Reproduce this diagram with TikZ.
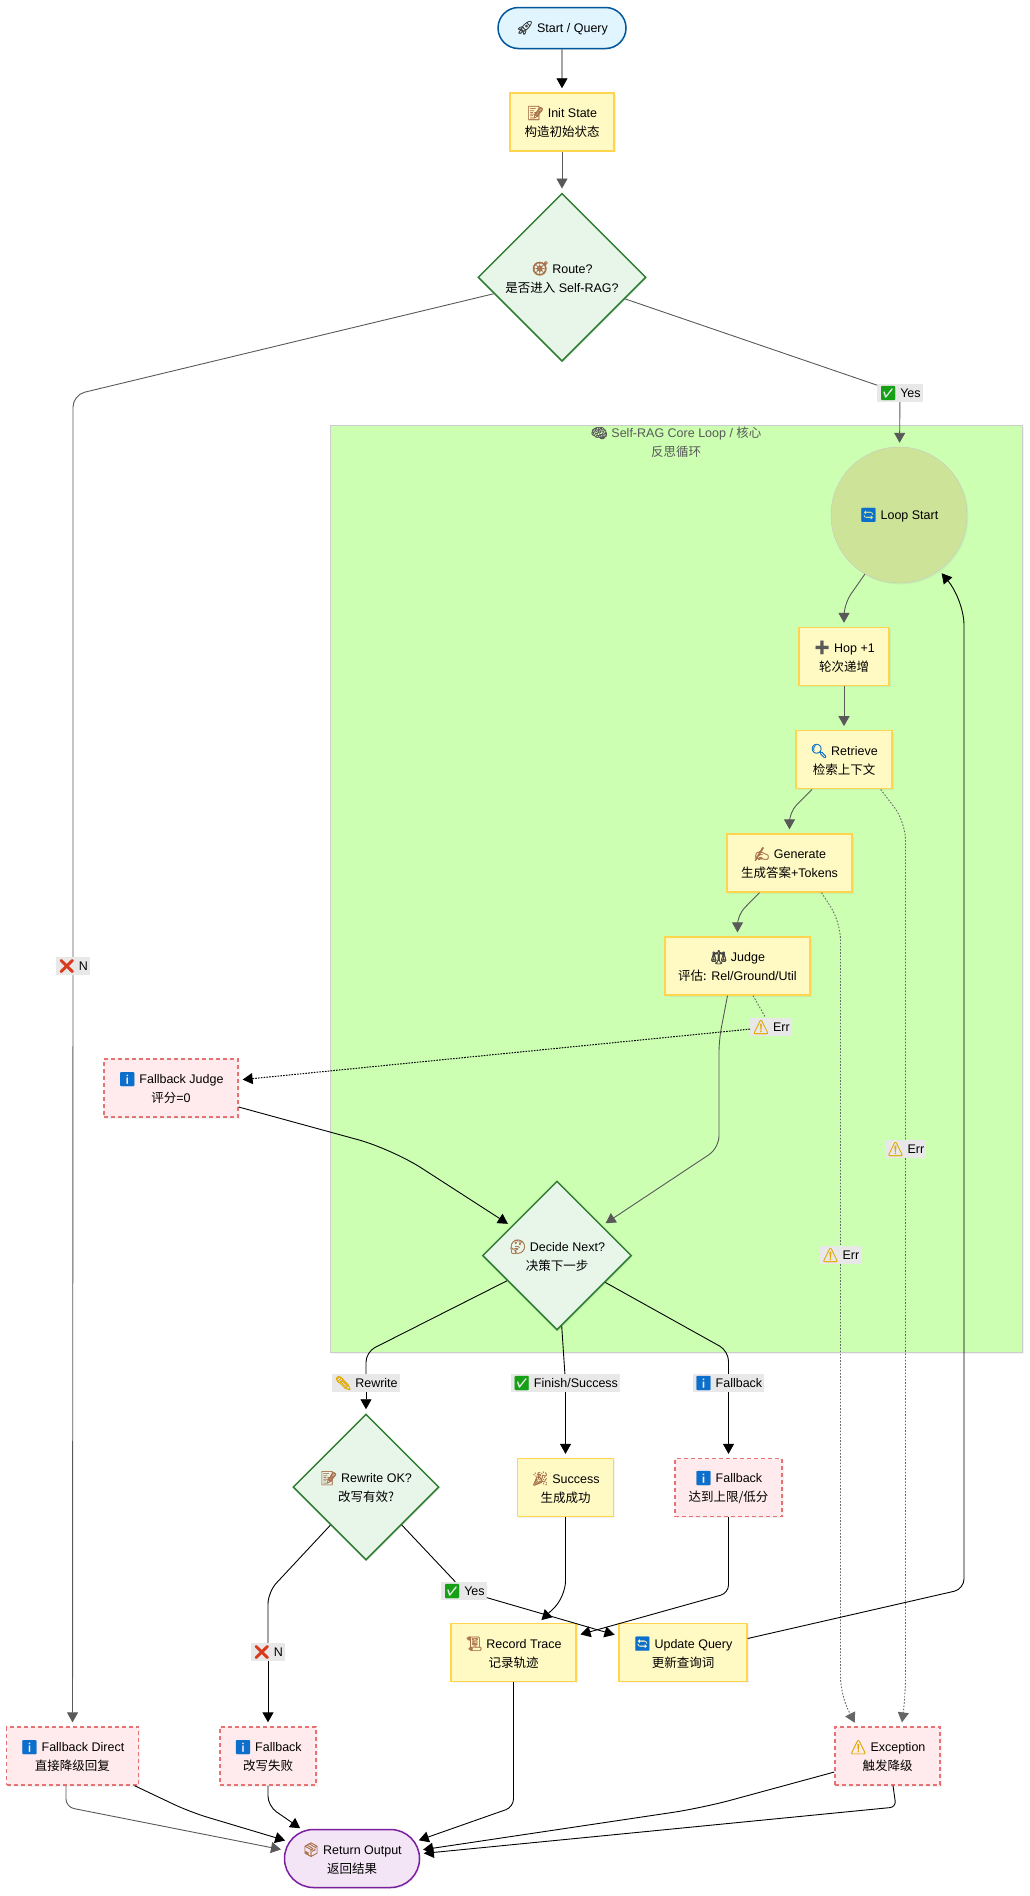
\documentclass[tikz,border=0pt]{standalone}
\usepackage{fontspec}
\setmainfont{Liberation Sans}
\newfontfamily\cjk{Noto Sans CJK SC}
\newfontfamily\emj[FakeBold=1.2,Scale=1.1]{Noto Emoji}
\usetikzlibrary{shapes,arrows.meta,positioning,shadows}
\definecolor{infoblue}{HTML}{0B6FCB}
\definecolor{warnamber}{HTML}{E0A800}
\definecolor{okgreen}{HTML}{16A016}
\definecolor{nored}{HTML}{D83A1E}
\definecolor{tanbrown}{HTML}{A9714B}
\definecolor{startline}{HTML}{01579B}
\definecolor{startfill}{HTML}{E1F5FE}
\definecolor{stepline}{HTML}{FFD54F}
\definecolor{stepfill}{HTML}{FFF9C4}
\definecolor{failline}{HTML}{E57373}
\definecolor{failfill}{HTML}{FFEBEE}
\definecolor{gateline}{HTML}{2E7D32}
\definecolor{gatefill}{HTML}{E8F5E9}
\definecolor{outline}{HTML}{7B1FA2}
\definecolor{outfill}{HTML}{F3E5F5}
\definecolor{corefill}{HTML}{CCFFB2}
\definecolor{loopfill}{HTML}{CDE498}
\newcommand{\ico}[2]{{\emj\color{#1}#2}\ }

\begin{document}
\begin{tikzpicture}[
  x=1pt, y=-1pt,
  softshadow/.style={drop shadow={opacity=0.10, shadow xshift=1.5pt, shadow yshift=-1.5pt}},
  basebox/.style={align=center, inner sep=0pt, minimum height=58pt, font=\fontsize{12.5}{19}\selectfont, softshadow},
  term/.style={basebox, rounded rectangle, draw=#1, line width=1.5pt},
  stepbox/.style={basebox, rectangle, draw=stepline, fill=stepfill, line width=1.3pt},
  failbox/.style={basebox, rectangle, dash pattern=on 4pt off 3pt, draw=failline, fill=failfill, line width=1.3pt},
  gate/.style={basebox, diamond, aspect=1, draw=gateline, fill=gatefill, line width=1.5pt},
  edgetag/.style={fill=black!9, inner xsep=2pt, inner ysep=0pt, minimum height=18pt, font=\fontsize{12.5}{15}\selectfont},
  flow/.style={-{Triangle[length=10pt,width=11pt]}, shorten >=4pt, line width=0.9pt},
  flowgray/.style={flow, draw=black!65},
  plainblack/.style={line width=0.9pt},
  plaingray/.style={line width=0.9pt, draw=black!65},
  dotgray/.style={dash pattern=on 1.6pt off 1.6pt, line width=0.9pt, draw=black!60},
  dotblack/.style={dash pattern=on 1.6pt off 1.2pt, line width=1pt}
]
  \useasboundingbox (0,0) rectangle (1029,1896);

  % Self-RAG group
  \node[rectangle, draw=black!20, fill=corefill, minimum width=692pt, minimum height=927pt, softshadow] (core) at (676,888.5) {};
  \node[align=center, text=black!65, font=\fontsize{12.5}{19}\selectfont] (coretitle) at (676,442.5) {\ico{black!65}{🧠}Self-RAG Core Loop / {\cjk 核心}\\{\cjk 反思循环}};

  % Entry
  \node[term=startline, fill=startfill, minimum width=128pt, minimum height=41pt] (start) at (562,28) {\ico{black!75}{🚀}Start / Query};
  \node[stepbox, minimum width=104pt, below=43pt of start] (init) {\ico{tanbrown}{📝}Init State\\{\cjk 构造初始状态}};
  \node[gate, minimum width=168pt, minimum height=168pt, below=41pt of init] (route) {\ico{tanbrown}{🧭}Route?\\{\cjk 是否进入} Self-RAG?};

  % Loop body
  \node[circle, draw=black!22, fill=loopfill, minimum size=136pt, inner sep=0pt, font=\fontsize{12.5}{19}\selectfont, softshadow] (loop) at (899,515) {\ico{infoblue}{🔄}Loop Start};
  \node[stepbox, minimum width=90pt] (hop) at (844,656.5) {\ico{black!65}{➕}Hop +1\\{\cjk 轮次递增}};
  \node[stepbox, minimum width=96pt, below=44pt of hop] (retrieve) {\ico{infoblue}{🔍}Retrieve\\{\cjk 检索上下文}};
  \node[stepbox, minimum width=125pt] (generate) at (789.5,863) {\ico{tanbrown}{✍}Generate\\{\cjk 生成答案}+Tokens};
  \node[stepbox, minimum width=145pt] (judge) at (737.5,966) {\ico{black!75}{⚖}Judge\\{\cjk 评估:} Rel/Ground/Util};
  \node[failbox, minimum width=134pt] (fbjudge) at (171,1088) {\ico{infoblue}{ℹ}Fallback Judge\\{\cjk 评分}=0};
  \node[gate, minimum width=149pt, minimum height=149pt] (decide) at (557,1255.5) {\ico{tanbrown}{🤔}Decide Next?\\{\cjk 决策下一步}};

  % Branches
  \node[gate, minimum width=146pt, minimum height=146pt] (rewriteok) at (366,1487) {\ico{tanbrown}{📝}Rewrite OK?\\{\cjk 改写有效?}};
  \node[stepbox, minimum width=96pt] (success) at (565.5,1487.5) {\ico{tanbrown}{🎉}Success\\{\cjk 生成成功}};
  \node[failbox, minimum width=107pt] (fbmax) at (728.5,1487.5) {\ico{infoblue}{ℹ}Fallback\\{\cjk 达到上限/低分}};
  \node[stepbox, minimum width=125pt] (record) at (513.5,1652.5) {\ico{tanbrown}{📜}Record Trace\\{\cjk 记录轨迹}};
  \node[stepbox, minimum width=128pt] (update) at (683,1652.5) {\ico{infoblue}{🔄}Update Query\\{\cjk 更新查询词}};

  % Bottom row
  \node[failbox, minimum width=132pt] (fbdirect) at (72.5,1756) {\ico{infoblue}{ℹ}Fallback Direct\\{\cjk 直接降级回复}};
  \node[failbox, minimum width=96pt] (fbrewrite) at (268,1756) {\ico{infoblue}{ℹ}Fallback\\{\cjk 改写失败}};
  \node[failbox, minimum width=105pt] (exception) at (887.5,1756) {\ico{warnamber}{⚠}Exception\\{\cjk 触发降级}};
  \node[term=outline, fill=outfill, minimum width=135pt] (output) at (352,1858.5) {\ico{tanbrown}{📦}Return Output\\{\cjk 返回结果}};

  % Edge tags
  \node[edgetag] (tagyes) at (900,393) {\ico{okgreen}{✅}Yes};
  \node[edgetag] (tagno) at (73,966) {\ico{nored}{❌}N};
  \node[edgetag] (tagerrjudge) at (771,1027) {\ico{warnamber}{⚠}Err};
  \node[edgetag] (tagerrretr) at (905.5,1149) {\ico{warnamber}{⚠}Err};
  \node[edgetag] (tagerrgen) at (840.5,1255) {\ico{warnamber}{⚠}Err};
  \node[edgetag] (tagrewrite) at (366,1383) {\ico{warnamber}{✏}Rewrite};
  \node[edgetag] (tagfinish) at (565.5,1383) {\ico{okgreen}{✅}Finish/Success};
  \node[edgetag] (tagfallback) at (728.5,1383) {\ico{infoblue}{ℹ}Fallback};
  \node[edgetag] (tagrwyes) at (464,1591) {\ico{okgreen}{✅}Yes};
  \node[edgetag] (tagrwno) at (268,1652) {\ico{nored}{❌}N};

  % Entry arrows
  \draw[flow] (start) -- (init);
  \draw[flowgray] (init) -- (route);
  \draw[plaingray] (route) -- (tagyes);
  \draw[flowgray] (tagyes) -- (loop);
  \draw[plaingray, rounded corners=12pt] (route) -- (73,395) -- (tagno);
  \draw[flowgray] (tagno) -- (fbdirect);

  % Loop arrows
  \draw[flowgray, rounded corners=12pt] (loop.240) -- (844,604) -- (hop);
  \draw[flowgray] (hop) -- (retrieve);
  \draw[flowgray, rounded corners=10pt] ([xshift=-32pt]retrieve.south) -- (789.5,812) -- (generate);
  \draw[flowgray, rounded corners=10pt] ([xshift=-30pt]generate.south) -- (737.5,915) -- (judge);
  \draw[flowgray, rounded corners=12pt] ([xshift=-10pt]judge.south) -- (719,1040) -- (719,1148) -- (decide);

  % Error paths
  \draw[dotgray, rounded corners=18pt] ([xshift=-12pt]retrieve.south east) -- (905.5,822) -- (tagerrretr);
  \draw[flowgray, dotgray, rounded corners=18pt] (tagerrretr) -- (905.5,1695) -- ([xshift=14pt]exception.north);
  \draw[dotgray, rounded corners=18pt] ([xshift=32pt]generate.south) -- (840.5,922) -- (tagerrgen);
  \draw[flowgray, dotgray, rounded corners=18pt] (tagerrgen) -- (840.5,1695) -- ([xshift=-31pt]exception.north);
  \draw[dotgray] ([xshift=15.5pt]judge.south) -- (tagerrjudge);
  \draw[flow, dotblack] (tagerrjudge) -- ([yshift=8pt]fbjudge.east);
  \draw[flow, rounded corners=35pt] ([yshift=-19pt]fbjudge.east) -- (392,1149) -- (decide);

  % Decide branches
  \draw[plainblack, rounded corners=10pt] (decide) -- (366,1352) -- (tagrewrite);
  \draw[flow] (tagrewrite) -- (rewriteok);
  \draw[plainblack] (decide) -- (tagfinish);
  \draw[flow] (tagfinish) -- (success);
  \draw[plainblack, rounded corners=10pt] (decide) -- (728.5,1351) -- (tagfallback);
  \draw[flow] (tagfallback) -- (fbmax);

  % Rewrite branches
  \draw[plainblack] (rewriteok) -- (tagrwyes);
  \draw[flow] (tagrwyes) -- ([yshift=-13pt]update.north west);
  \draw[plainblack, rounded corners=12pt] (rewriteok) -- (268,1592) -- (tagrwno);
  \draw[flow] (tagrwno) -- (fbrewrite);
  \draw[flow, rounded corners=16pt] (success) -- (565.5,1597) -- ([xshift=25pt]record.north);
  \draw[flow, rounded corners=8pt] (fbmax) -- (728.5,1593) -- ([yshift=17pt]record.east);
  \draw[flow, rounded corners=10pt] ([yshift=14pt]update.east) -- (964,1589) [rounded corners=25pt] -- (964,600) -- (loop.-54);

  % Into the output
  \draw[flow, rounded corners=8pt] (record) -- (513.5,1807) -- (output.15);
  \draw[flowgray, rounded corners=8pt] ([xshift=-6.5pt]fbdirect.south) -- (66,1807) -- (output.173);
  \draw[flow, rounded corners=18pt] ([xshift=62pt]fbdirect.south) -- (190,1812) -- (output.165);
  \draw[flow, rounded corners=10pt] (fbrewrite) -- (268,1806) -- (output.150);
  \draw[flow, rounded corners=30pt] ([yshift=-16pt]exception.west) -- (702,1808) -- (output.7);
  \draw[flow, rounded corners=6pt] ([xshift=5.5pt]exception.south) -- (896,1807) -- (output.4);
\end{tikzpicture}
\end{document}
